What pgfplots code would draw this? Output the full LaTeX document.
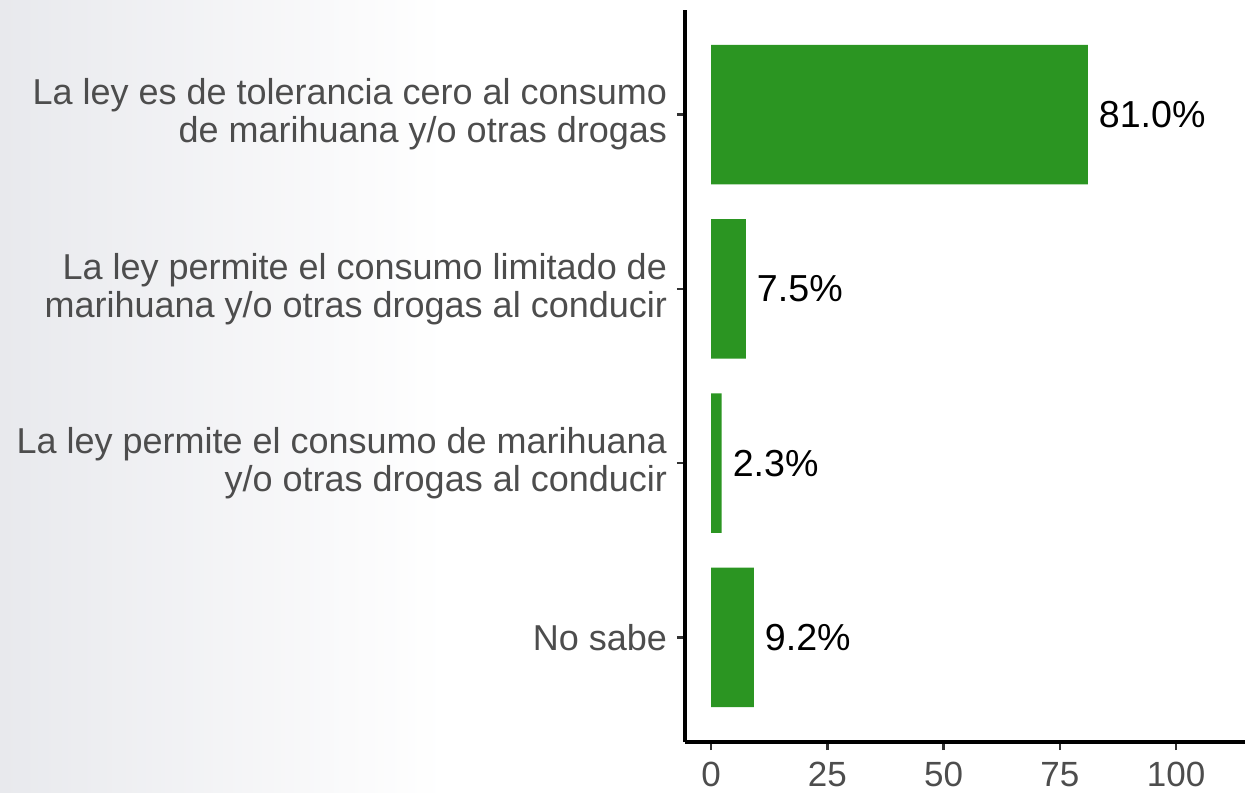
\documentclass[border=0pt]{standalone}
\usepackage{fontspec}
\setmainfont{Liberation Sans}
\usepackage{pgfplots}
\pgfplotsset{compat=1.18}
\definecolor{barg}{RGB}{43,149,34}
\definecolor{lblgray}{RGB}{77,77,77}
\definecolor{bgleft}{RGB}{232,233,237}
\begin{document}
\begin{tikzpicture}
\useasboundingbox (-342.5pt,-25pt) rectangle (280pt,371pt);
\shade[left color=bgleft, right color=white] (-342.5pt,-25pt) rectangle (-120pt,371pt);
\begin{axis}[
  at={(0,0)}, anchor=south west,
  width=280pt, height=366pt, scale only axis,
  xmin=-5.6, xmax=114.8,
  ymin=0.4, ymax=4.6,
  xbar, bar width=0.8,
  axis x line*=bottom, axis y line*=left,
  axis line style={-, line width=1.6pt, black},
  xtick={0,25,50,75,100},
  ytick={1,2,3,4},
  yticklabels={{No sabe},{La ley permite el consumo de marihuana\\y/o otras drogas al conducir},{La ley permite el consumo limitado de\\marihuana y/o otras drogas al conducir},{La ley es de tolerancia cero al consumo\\de marihuana y/o otras drogas}},
  yticklabel style={align=right, font=\fontsize{18}{19}\selectfont, text=lblgray, xshift=-1.5pt},
  xticklabel style={font=\fontsize{17.5}{19}\selectfont, text=lblgray, yshift=-2.5pt},
  /pgf/number format/assume math mode=true,
  tick align=outside, major tick length=4pt,
  tick style={line width=1.2pt, color=black!80},
  point meta=explicit symbolic,
  nodes near coords,
  nodes near coords style={anchor=west, xshift=2pt, font=\fontsize{18.8}{19}\selectfont, text=black},
  clip=false,
]
\addplot[fill=barg, draw=none] coordinates {
  (81.0,4) [81.0\%]
  (7.5,3) [7.5\%]
  (2.3,2) [2.3\%]
  (9.2,1) [9.2\%]
};
\end{axis}
\end{tikzpicture}
\end{document}
